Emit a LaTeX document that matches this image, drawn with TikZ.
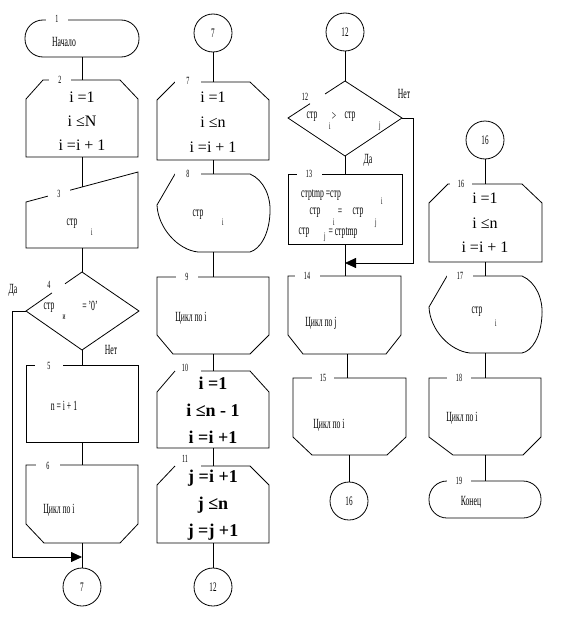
\documentclass[tikz,border=0pt]{standalone}
\usepackage{fontspec}
\setmainfont{Liberation Serif}
\usetikzlibrary{arrows.meta}
\newcommand{\cnd}[2][0.55]{\scalebox{#1}[1]{#2}}
\tikzset{
  blk/.style={draw, line width=0.8pt},
  con/.style={draw, line width=0.8pt},
  arr/.style={con, -{Triangle[length=11pt,width=10pt]}},
  num/.style={fill=white, inner xsep=0pt, inner ysep=1pt, minimum width=22pt, font=\fontsize{11}{11}\selectfont},
  numn/.style={inner sep=0pt, font=\fontsize{11}{11}\selectfont},
  txt/.style={inner sep=0pt, font=\fontsize{16}{16}\selectfont},
  btxt/.style={inner sep=0pt, font=\fontsize{18}{18}\selectfont\bfseries},
  ctxt/.style={inner sep=0pt, font=\fontsize{14}{14}\selectfont},
  sbs/.style={inner sep=0pt, font=\fontsize{10}{10}\selectfont},
  conn/.style={circle, draw, line width=0.8pt, minimum size=38pt, inner sep=0pt, font=\fontsize{13}{13}\selectfont},
}
\begin{document}
\begin{tikzpicture}[x=1pt,y=-1pt]
\useasboundingbox (0,0) rectangle (562,621);

% ---------------- column 1 ----------------
\draw[blk,rounded corners=18pt] (25,20) rectangle (139,57);
\draw[blk] (43,80) -- (120,80) -- (138,99) -- (138,157) -- (26,157) -- (26,99) -- cycle;
\draw[blk] (26,202) -- (138,172) -- (138,248) -- (26,248) -- cycle;
\draw[blk] (65,283.8) -- (82,272) -- (139,311) -- (82,350) -- (26,311) -- (52,292.9);
\draw[blk] (26,365) rectangle (138,442);
\draw[blk] (26,465) -- (138,465) -- (138,524) -- (120,543) -- (44,543) -- (26,524) -- cycle;
\node[conn] (c7a) at (82,587) {\cnd{7}};

\coordinate (b1s) at (82,57);  \coordinate (b2n) at (82,80);
\coordinate (b2s) at (82,157); \coordinate (b3n) at (82,187);
\coordinate (b3s) at (82,248); \coordinate (b4n) at (82,272);
\coordinate (b4s) at (82,350); \coordinate (b4w) at (26,311);
\coordinate (b5n) at (82,365); \coordinate (b5s) at (82,442);
\coordinate (b6n) at (82,465); \coordinate (b6s) at (82,543);
\coordinate (j7) at (82,557);

\node[num] (n1) at (57,19) {\cnd{1}};
\node[num] (n2) at (60,80) {\cnd{2}};
\node[num] (n3) at (59,194) {\cnd{3}};
\node[numn] (n4) at (49,285) {\cnd{4}};
\node[num,minimum width=28pt] (n5) at (49,366) {\cnd{5}};
\node[num,minimum width=24pt] (n6) at (48,466) {\cnd{6}};

\node[ctxt] (t1) at (64,42) {\cnd{Начало}};
\node[txt] (t2a) at (82,97) {i =1};
\node[txt] (t2b) at (82,121) {i ≤N};
\node[txt] (t2c) at (82,145) {i =i + 1};
\node[ctxt] (t3) at (72,224) {\cnd{стр}};
\node[sbs] (t3i) at (92,232) {\cnd{i}};
\node[ctxt] (t4) at (49,308) {\cnd{стр}};
\node[sbs] (t4i) at (64,317) {\cnd{и}};
\node[ctxt] (t4b) at (90,306) {\cnd{= '0'}};
\node[ctxt] (t5) at (64,406) {\cnd{n = i + 1}};
\node[ctxt] (t6) at (59,510) {\cnd{Цикл по i}};
\node[ctxt] (yes4) at (13,290) {\cnd{Да}};
\node[ctxt] (no4) at (111,350) {\cnd{Нет}};

\draw[con] (b1s) -- (b2n);
\draw[con] (b2s) -- (b3n);
\draw[con] (b3s) -- (b4n);
\draw[con] (b4s) -- (b5n);
\draw[con] (b5s) -- (b6n);
\draw[con] (b6s) -- (c7a.north);
\draw[arr] (b4w) -- ++(-14,0) |- (j7);

% ---------------- column 2 ----------------
\node[conn] (c7b) at (213,33) {\cnd{7}};
\draw[blk] (175,82) -- (250,82) -- (269,100) -- (269,160) -- (157,160) -- (157,100) -- cycle;
\draw[blk] (175,174) -- (250,174) .. controls (264,180) and (271,197) .. (270,213)
  .. controls (269,235) and (260,249) .. (250,252) -- (198,252)
  .. controls (178,250) and (158,228) .. (157,205) -- cycle;
\draw[blk] (157,277) -- (269,277) -- (269,335) -- (250,354) -- (173,354) -- (157,335) -- cycle;
\draw[blk] (201,371) -- (250,371) -- (269,392) -- (269,448) -- (157,448) -- (157,392) -- (175,371);
\draw[blk] (201,466) -- (250,466) -- (269,485) -- (269,543) -- (157,543) -- (157,485) -- (175,466);
\node[conn] (c12a) at (213,587) {\cnd{12}};

\coordinate (b7n) at (213,82);   \coordinate (b7s) at (213,160);
\coordinate (b8n) at (213,174);  \coordinate (b8s) at (213,252);
\coordinate (b9n) at (213,277);  \coordinate (b9s) at (213,354);
\coordinate (b10n) at (213,371); \coordinate (b10s) at (213,448);
\coordinate (b11n) at (213,466); \coordinate (b11s) at (213,543);

\node[num,minimum width=26pt] (n7) at (188,81) {\cnd{7}};
\node[num,minimum width=26pt] (n8) at (188,174) {\cnd{8}};
\node[num] (n9) at (187,277) {\cnd{9}};
\node[numn] (n10) at (185,368) {\cnd{10}};
\node[numn] (n11) at (185,459) {\cnd{11}};

\node[txt] (t7a) at (213,97) {i =1};
\node[txt] (t7b) at (213,122) {i ≤n};
\node[txt] (t7c) at (213,147) {i =i + 1};
\node[ctxt] (t8) at (198,215) {\cnd{стр}};
\node[sbs] (t8i) at (223,222) {\cnd{i}};
\node[ctxt] (t9) at (191,318) {\cnd{Цикл по i}};
\node[btxt] (t10a) at (213,383) {i =1};
\node[btxt] (t10b) at (213,410) {i ≤n - 1};
\node[btxt] (t10c) at (213,437) {i =i +1};
\node[btxt] (t11a) at (213,478) {j =i +1};
\node[btxt] (t11b) at (213,505) {j ≤n};
\node[btxt] (t11c) at (213,532) {j =j +1};

\draw[con] (c7b.south) -- (b7n);
\draw[con] (b7s) -- (b8n);
\draw[con] (b8s) -- (b9n);
\draw[con] (b9s) -- (b10n);
\draw[con] (b10s) -- (b11n);
\draw[con] (b11s) -- (c12a.north);

% ---------------- column 3 ----------------
\node[conn] (c12b) at (345,32) {\cnd{12}};
\draw[blk] (325,94) -- (345,81) -- (402,118) -- (345,156) -- (288,118) -- (310,103.7);
\draw[blk] (288,174) rectangle (402,244);
\draw[blk] (288,276) -- (401,276) -- (401,335) -- (386,354) -- (303,354) -- (288,335) -- cycle;
\draw[blk] (293,378) -- (406,378) -- (406,437) -- (387,455) -- (312,455) -- (293,437) -- cycle;
\node[conn] (c16a) at (349,501) {\cnd{16}};

\coordinate (b12n) at (345,81);  \coordinate (b12s) at (345,156);
\coordinate (b12e) at (402,118);
\coordinate (b13n) at (345,174); \coordinate (b13s) at (345,244);
\coordinate (b14n) at (345,276); \coordinate (j14) at (345,263);
\coordinate (b14s) at (347,354); \coordinate (b15n) at (347,378);
\coordinate (b15s) at (349,455);

\node[numn] (n12) at (305,97) {\cnd{12}};
\node[num,minimum width=25pt] (n13) at (309,174) {\cnd{13}};
\node[num,minimum width=25pt] (n14) at (307,276) {\cnd{14}};
\node[num,minimum width=22pt] (n15) at (323,378) {\cnd{15}};

\node[ctxt] (t12a) at (312,117) {\cnd{стр}};
\node[sbs] (t12ai) at (330,126) {\cnd{i}};
\node[ctxt] (t12g) at (334,116) {\cnd{>}};
\node[ctxt] (t12b) at (350,117) {\cnd{стр}};
\node[sbs] (t12bj) at (380,126) {\cnd{j}};
\node[ctxt] (t13a) at (321,195) {\cnd{стрtmp =стр}};
\node[sbs] (t13ai) at (382,201) {\cnd{i}};
\node[ctxt] (t13b) at (315,213) {\cnd{стр}};
\node[sbs] (t13bi) at (334,222) {\cnd{i}};
\node[ctxt] (t13be) at (340,212) {\cnd{=}};
\node[ctxt] (t13c) at (358,213) {\cnd{стр}};
\node[sbs] (t13cj) at (376,223) {\cnd{j}};
\node[ctxt] (t13d) at (304,233) {\cnd{стр}};
\node[sbs] (t13dj) at (325,237) {\cnd{j}};
\node[ctxt] (t13e) at (343,233) {\cnd{= стрtmp}};
\node[ctxt] (t14) at (321,323) {\cnd{Цикл по j}};
\node[ctxt] (t15) at (329,425) {\cnd{Цикл по i}};
\node[ctxt] (no12) at (404,94) {\cnd{Нет}};
\node[ctxt] (yes12) at (368,160) {\cnd{Да}};

\draw[con] (c12b.south) -- (b12n);
\draw[con] (b12s) -- (b13n);
\draw[con] (b13s) -- (b14n);
\draw[arr] (b12e) -- ++(11,0) |- (j14);
\draw[con] (b14s) -- (b15n);
\draw[con] (b15s) -- (c16a.north);

% ---------------- column 4 ----------------
\node[conn] (c16b) at (485,140) {\cnd{16}};
\draw[blk] (448,184) -- (522,184) -- (542,203) -- (542,262) -- (429,262) -- (429,203) -- cycle;
\begin{scope}[shift={(272,102)}]
\draw[blk] (175,174) -- (250,174) .. controls (264,180) and (271,197) .. (270,213)
  .. controls (269,235) and (260,249) .. (250,251) -- (198,251)
  .. controls (178,249) and (158,228) .. (157,205) -- cycle;
\end{scope}
\draw[blk] (429,378) -- (541,378) -- (541,437) -- (523,455) -- (453,455) -- (429,437) -- cycle;
\draw[blk,rounded corners=18pt] (429,481) rectangle (541,518);

\coordinate (b16n) at (485,184); \coordinate (b16s) at (485,262);
\coordinate (b17n) at (485,276); \coordinate (b17s) at (485,353);
\coordinate (b18n) at (485,378); \coordinate (b18s) at (485,455);
\coordinate (b19n) at (485,481);

\node[num,minimum width=22pt] (n16) at (461,184) {\cnd{16}};
\node[num,minimum width=26pt] (n17) at (460,276) {\cnd{17}};
\node[num,minimum width=24pt] (n18) at (459,378) {\cnd{18}};
\node[num,minimum width=24pt] (n19) at (459,481) {\cnd{19}};

\node[txt] (t16a) at (485,198) {i =1};
\node[txt] (t16b) at (485,223) {i ≤n};
\node[txt] (t16c) at (485,247) {i =i + 1};
\node[ctxt] (t17) at (477,312) {\cnd{стр}};
\node[sbs] (t17i) at (496,323) {\cnd{i}};
\node[ctxt] (t18) at (462,418) {\cnd{Цикл по i}};
\node[ctxt] (t19) at (471,502) {\cnd{Конец}};

\draw[con] (c16b.south) -- (b16n);
\draw[con] (b16s) -- (b17n);
\draw[con] (b17s) -- (b18n);
\draw[con] (b18s) -- (b19n);
\end{tikzpicture}
\end{document}
